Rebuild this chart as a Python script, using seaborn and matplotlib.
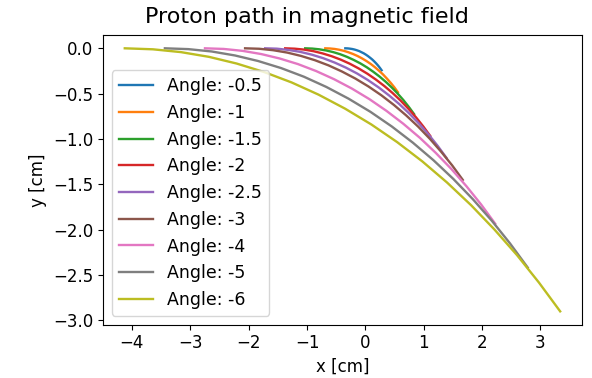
import matplotlib
matplotlib.use("Agg")
import matplotlib.pyplot as plt
import seaborn as sns
import pandas as pd

# Entry angles of the simulated protons
angles = ["-0.5", "-1", "-1.5", "-2", "-2.5", "-3", "-4", "-5", "-6"]

# Trajectory samples (x, y in cm), one list pair per angle
x_a05 = [-0.344, -0.303, -0.263, -0.223, -0.184, -0.144, -0.105, -0.067, -0.029,
         0.009, 0.045, 0.081, 0.117, 0.151, 0.184, 0.217, 0.248, 0.278]
y_a05 = [0, -0.001, -0.004, -0.008, -0.014, -0.022, -0.031, -0.043, -0.055,
         -0.070, -0.086, -0.104, -0.123, -0.144, -0.166, -0.190, -0.215, -0.242]

x_a1 = [-0.687, -0.607, -0.527, -0.447, -0.368, -0.289, -0.211, -0.134, -0.058,
        0.017, 0.091, 0.163, 0.233, 0.302, 0.368, 0.433, 0.496, 0.556]
y_a1 = [0, -0.002, -0.007, -0.016, -0.028, -0.044, -0.063, -0.085, -0.111,
        -0.140, -0.172, -0.208, -0.247, -0.288, -0.333, -0.380, -0.430, -0.483]

x_a15 = [-1.031, -0.910, -0.790, -0.670, -0.551, -0.433, -0.316, -0.201, -0.087,
         0.026, 0.136, 0.244, 0.350, 0.452, 0.553, 0.650, 0.744, 0.834]
y_a15 = [0, -0.003, -0.011, -0.024, -0.042, -0.065, -0.094, -0.128, -0.166,
         -0.210, -0.259, -0.312, -0.370, -0.432, -0.499, -0.570, -0.646, -0.725]

x_a2 = [-1.374, -1.213, -1.053, -0.894, -0.735, -0.578, -0.422, -0.267, -0.115,
        0.034, 0.181, 0.325, 0.466, 0.603, 0.737, 0.866, 0.991, 1.112]
y_a2 = [0, -0.004, -0.014, -0.031, -0.056, -0.087, -0.125, -0.170, -0.222,
        -0.280, -0.345, -0.416, -0.493, -0.576, -0.666, -0.760, -0.861, -0.967]

x_a25 = [-1.718, -1.517, -1.317, -1.117, -0.919, -0.722, -0.527, -0.334, -0.144,
         0.043, 0.227, 0.407, 0.583, 0.754, 0.921, 1.083, 1.239, 1.390]
y_a25 = [0, -0.004, -0.018, -0.039, -0.070, -0.109, -0.157, -0.213, -0.277,
         -0.350, -0.431, -0.520, -0.616, -0.720, -0.832, -0.951, -1.076, -1.209]

x_a3 = [-2.061, -1.820, -1.580, -1.340, -1.103, -0.866, -0.632, -0.401, -0.173,
        0.051, 0.272, 0.488, 0.699, 0.905, 1.105, 1.299, 1.487, 1.668]
y_a3 = [0, -0.005, -0.021, -0.047, -0.084, -0.131, -0.188, -0.256, -0.333,
        -0.420, -0.517, -0.624, -0.740, -0.864, -0.998, -1.141, -1.291, -1.450]

x_a4 = [-2.748, -2.427, -2.106, -1.787, -1.470, -1.155, -0.843, -0.535, -0.231,
        0.068, 0.362, 0.650, 0.932, 1.206, 1.474, 1.732, 1.983, 2.224]
y_a4 = [0, -0.007, -0.028, -0.063, -0.112, -0.174, -0.251, -0.341, -0.444,
        -0.560, -0.690, -0.832, -0.986, -1.153, -1.331, -1.521, -1.722, -1.934]

x_a5 = [-3.435, -3.034, -2.633, -2.234, -1.838, -1.444, -1.054, -0.669, -0.289,
        0.086, 0.453, 0.813, 1.165, 1.508, 1.842, 2.166, 2.479, 2.781]
y_a5 = [0, -0.009, -0.035, -0.079, -0.140, -0.218, -0.313, -0.426, -0.555,
        -0.700, -0.862, -1.040, -1.233, -1.441, -1.664, -1.901, -2.152, -2.417]

x_a6 = [-4.122, -3.640, -3.160, -2.681, -2.205, -1.733, -1.265, -0.802, -0.346,
        0.103, 0.544, 0.976, 1.398, 1.810, 2.210, 2.599, 2.974, 3.337]
y_a6 = [0, -0.011, -0.042, -0.094, -0.168, -0.262, -0.376, -0.511, -0.666,
        -0.840, -1.034, -1.247, -1.479, -1.729, -1.997, -2.281, -2.583, -2.900]

xs = [x_a05, x_a1, x_a15, x_a2, x_a25, x_a3, x_a4, x_a5, x_a6]
ys = [y_a05, y_a1, y_a15, y_a2, y_a25, y_a3, y_a4, y_a5, y_a6]

rows = []
for ang, xv, yv in zip(angles, xs, ys):
    for i, (px, py) in enumerate(zip(xv, yv)):
        rows.append({"label": f"Angle: {ang}", "step": i, "x": px, "y": py})
df = pd.DataFrame(rows)
labels = [f"Angle: {a}" for a in angles]

palette = ["#1f77b4", "#ff7f0e", "#2ca02c", "#d62728", "#9467bd",
           "#8c564b", "#e377c2", "#7f7f7f", "#bcbd22"]

fig = plt.figure(figsize=(5.92, 3.78), dpi=100)
ax = fig.add_axes([0.174, 0.1415, 0.809, 0.7655])

sns.lineplot(data=df, x="x", y="y", hue="label", hue_order=labels,
             palette=palette, sort=False, estimator=None, units="label",
             linewidth=1.7, ax=ax)

fig.text(0.519, 1 - 17 / 378, "Proton path in magnetic field",
         fontsize=16, ha="center", va="center")
ax.set_xlabel("x [cm]", fontsize=12)
ax.set_ylabel("y [cm]", fontsize=12)
ax.set_xticks([-4, -3, -2, -1, 0, 1, 2, 3])
ax.set_yticks([0.0, -0.5, -1.0, -1.5, -2.0, -2.5, -3.0])
ax.tick_params(labelsize=12)
ax.legend(loc="lower left", fontsize=12.5, title=None)

fig.savefig("out.png", dpi=100)
